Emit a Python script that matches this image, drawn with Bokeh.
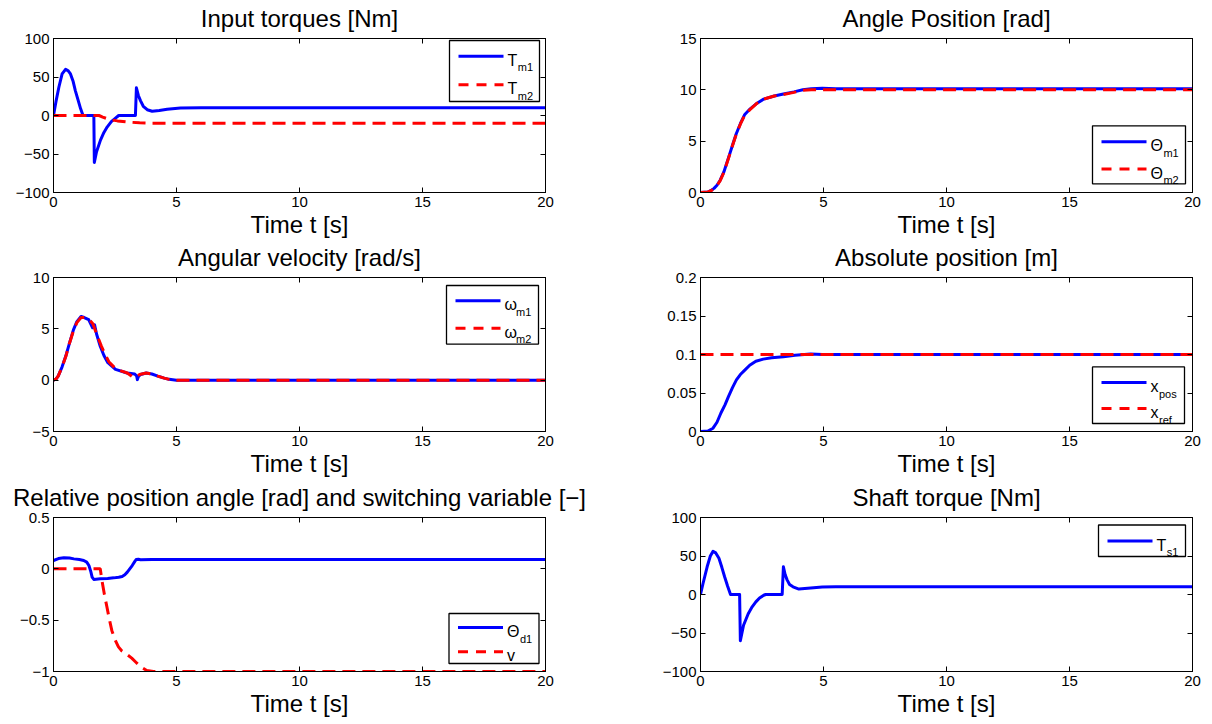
from bokeh.plotting import figure
from bokeh.models import Range1d, LinearAxis, FixedTicker, BoxAnnotation, Label
from bokeh.layouts import column, row
from bokeh.embed import file_html
from bokeh.resources import INLINE

FONT = "Liberation Sans"
BLUE = "#0000ff"
RED = "#ff0000"

# ------------------------------------------------------------------ data
time_ticks = [0, 5, 10, 15, 20]
time_tick_labels = ["0", "5", "10", "15", "20"]

# 1) Input torques [Nm]
tm1_t = [0, 0.1, 0.22, 0.35, 0.49, 0.6, 0.69, 0.8, 0.89, 1.0, 1.1, 1.2, 1.64, 1.66, 1.75, 1.91,
         2.05, 2.18, 2.35, 2.52, 2.65, 3.33, 3.37, 3.45, 3.54, 3.65, 3.81, 4.01, 4.3, 4.62, 5.16, 6.0, 20]
tm1_v = [0, 18, 37, 54, 60, 58, 54, 44, 32, 20, 9, 0, 0, -61, -47, -32,
         -22, -15, -8, -3.5, 0, 0, 36, 26, 19, 12, 7.5, 5.6, 6.5, 8, 9.6, 10, 10]
tm2_t = [0, 1.85, 2.0, 2.3, 2.6, 3.0, 3.5, 4.0, 5.0, 20]
tm2_v = [0, 0, -2, -5.5, -7, -8.5, -9.5, -10, -10, -10]
torque_ticks = [-100, -50, 0, 50, 100]
torque_tick_labels = ["\u2212100", "\u221250", "0", "50", "100"]

# 2) Angle position [rad]
thm_t = [0, 0.3, 0.43, 0.55, 0.67, 0.8, 0.95, 1.14, 1.3, 1.45, 1.62, 1.8, 2.02, 2.3, 2.57,
         3.0, 3.37, 3.8, 4.16, 4.5, 4.95, 5.5, 20]
thm1_v = [0, 0.05, 0.2, 0.4, 0.7, 1.2, 2.0, 3.4, 4.6, 5.7, 6.7, 7.6, 8.15, 8.7, 9.1,
          9.4, 9.6, 9.8, 10.0, 10.1, 10.15, 10.1, 10.1]
thm2_v = [0, 0.05, 0.18, 0.38, 0.68, 1.15, 1.95, 3.35, 4.55, 5.65, 6.65, 7.55, 8.1, 8.7, 9.1,
          9.4, 9.55, 9.75, 9.95, 10.0, 10.0, 10.0, 10.0]
angle_ticks = [0, 5, 10, 15]
angle_tick_labels = ["0", "5", "10", "15"]

# 3) Angular velocity [rad/s]
wm1_t = [0, 0.1, 0.19, 0.35, 0.5, 0.65, 0.81, 0.95, 1.12, 1.25, 1.43, 1.59, 1.67, 1.75, 1.9,
         2.05, 2.21, 2.52, 2.99, 3.3, 3.38, 3.41, 3.45, 3.54, 3.77, 4.0, 4.24, 4.5, 4.7, 5.0, 20]
wm1_v = [0, 0.1, 0.4, 1.3, 2.35, 3.6, 4.9, 5.7, 6.2, 6.1, 5.9, 5.1, 5.4, 4.5, 3.3,
         2.4, 1.7, 1.05, 0.7, 0.6, 0.4, 0.05, 0.35, 0.55, 0.7, 0.6, 0.4, 0.2, 0.08, 0, 0]
wm2_t = [0, 0.1, 0.19, 0.35, 0.5, 0.65, 0.81, 0.95, 1.12, 1.3, 1.45, 1.6, 1.75, 1.95, 2.1,
         2.25, 2.55, 3.0, 3.2, 3.3, 3.5, 3.77, 4.0, 4.24, 4.5, 4.7, 5.0, 20]
wm2_v = [0, 0.1, 0.4, 1.3, 2.3, 3.6, 4.8, 5.6, 6.1, 6.1, 5.9, 5.5, 4.5, 3.3, 2.5,
         1.8, 1.05, 0.7, 0.35, 0.25, 0.55, 0.7, 0.6, 0.4, 0.2, 0.08, 0, 0]
vel_ticks = [-5, 0, 5, 10]
vel_tick_labels = ["\u22125", "0", "5", "10"]

# 4) Absolute position [m]
xpos_t = [0, 0.3, 0.51, 0.67, 0.83, 1.0, 1.14, 1.3, 1.46, 1.62, 1.78, 2.0, 2.25, 2.55, 2.89,
          3.37, 3.84, 4.48, 4.95, 20]
xpos_v = [0, 0.0005, 0.0043, 0.012, 0.024, 0.035, 0.0457, 0.057, 0.067, 0.074, 0.079, 0.086,
          0.0913, 0.094, 0.0957, 0.097, 0.099, 0.1005, 0.1, 0.1]
xref_t = [0, 20]
xref_v = [0.1, 0.1]
pos_ticks = [0, 0.05, 0.1, 0.15, 0.2]
pos_tick_labels = ["0", "0.05", "0.1", "0.15", "0.2"]

# 5) Relative position angle [rad] and switching variable [-]
thd_t = [0, 0.2, 0.42, 0.65, 0.83, 1.05, 1.23, 1.35, 1.44, 1.52, 1.57, 1.64, 1.9, 2.2, 2.45,
         2.65, 2.79, 2.9, 3.0, 3.1, 3.2, 3.3, 3.36, 3.45, 3.54, 4.0, 20]
thd_v = [0.081, 0.1, 0.107, 0.105, 0.097, 0.09, 0.081, 0.065, 0.032, -0.03, -0.08, -0.104,
         -0.097, -0.093, -0.088, -0.082, -0.075, -0.058, -0.032, 0.0, 0.032, 0.07, 0.091, 0.093,
         0.088, 0.09, 0.09]
sw_t = [0, 1.9, 1.97, 2.07, 2.17, 2.27, 2.37, 2.5, 2.64, 2.78, 2.91, 3.18, 3.35, 3.52, 3.79, 4.06, 20]
sw_v = [0, 0, -0.114, -0.25, -0.37, -0.49, -0.60, -0.69, -0.76, -0.80, -0.82, -0.87, -0.91,
        -0.95, -0.99, -1.0, -1.0]
rel_ticks = [-1, -0.5, 0, 0.5]
rel_tick_labels = ["\u22121", "\u22120.5", "0", "0.5"]

# 6) Shaft torque [Nm]
ts1_t = [0, 0.1, 0.27, 0.4, 0.51, 0.62, 0.75, 0.87, 0.98, 1.1, 1.22, 1.59, 1.62, 1.75, 1.94,
         2.1, 2.25, 2.4, 2.57, 2.65, 3.32, 3.37, 3.44, 3.52, 3.62, 3.76, 4.0, 4.48, 4.95, 5.5, 20]
ts1_v = [0, 14, 36, 50, 56, 54, 47, 35, 23, 11, 0, 0, -60, -40, -25,
         -16, -9.6, -4.5, -1, 0, 0, 36, 26, 19, 13, 10, 7, 8.5, 9.8, 10, 10]

# ------------------------------------------------------------------ layout
FW, FH = 492, 154
COL_BORDERS = [(53, 100), (55, 18)]           # left, right
ROW_BORDERS = [(48, 60), (48, 60), (48, 53)]  # top, bottom (generous, rows overlap)
ROW_MARGINS = [(-10, 0, 0, 0), (-23, 0, 0, 0), (-22, 0, 0, 0)]
SYM_W = {"T": 9.8, "\u0398": 12.4, "\u03c9": 11.0, "x": 8.0, "v": 8.0}
PLOT_DASH = "13 7"
LEG_DASH = "10 8"


def style_axis(ax, ticks, labels, visible_labels=True):
    ax.ticker = FixedTicker(ticks=ticks)
    ax.major_label_overrides = {t: l for t, l in zip(ticks, labels)}
    ax.major_tick_in = 5
    ax.major_tick_out = 0
    ax.minor_tick_line_color = None
    ax.major_tick_line_color = "black"
    ax.axis_line_color = "black"
    ax.major_label_text_font = FONT
    ax.major_label_text_color = "black"
    if visible_labels:
        ax.major_label_text_font_size = "15px"
        ax.major_label_standoff = 4
    else:
        ax.major_label_text_font_size = "1px"
        ax.major_label_text_alpha = 0
        ax.major_label_standoff = 0


def make_panel(col, rowi, title, ylo, yhi, yticks, ylabels):
    bl, br = COL_BORDERS[col]
    bt, bb = ROW_BORDERS[rowi]
    p = figure(frame_width=FW, frame_height=FH,
               x_range=Range1d(0, 20), y_range=Range1d(ylo, yhi),
               output_backend="svg", toolbar_location=None,
               min_border_left=bl, min_border_right=br,
               min_border_top=bt, min_border_bottom=bb,
               background_fill_color="white", border_fill_color="white",
               border_fill_alpha=0,
               outline_line_color="black", outline_line_width=1)
    p.title.text = title
    p.title.text_font = FONT
    p.title.text_font_size = "24px"
    p.title.text_font_style = "normal"
    p.title.text_color = "black"
    p.title.align = "center"
    p.title.standoff = 14
    p.xgrid.visible = False
    p.ygrid.visible = False
    style_axis(p.xaxis[0], time_ticks, time_tick_labels)
    style_axis(p.yaxis[0], yticks, ylabels)
    xa = p.xaxis[0]
    xa.axis_label = "Time t [s]"
    xa.axis_label_text_font = FONT
    xa.axis_label_text_font_size = "24px"
    xa.axis_label_text_font_style = "normal"
    xa.axis_label_text_color = "black"
    xa.axis_label_standoff = 1
    top = LinearAxis()
    style_axis(top, time_ticks, time_tick_labels, False)
    p.add_layout(top, "above")
    right = LinearAxis()
    style_axis(right, yticks, ylabels, False)
    p.add_layout(right, "right")

    def dx(px):
        return 0 + px / FW * 20.0

    def dy(py):
        return yhi - py / FH * (yhi - ylo)

    p._dx, p._dy = dx, dy
    return p


def add_legend(p, right_off, anchor, v_off, w, h, rows, entries):
    dx, dy = p._dx, p._dy
    bl = FW - right_off - w
    br = FW - right_off
    bt = v_off if anchor == "top" else FH - v_off - h
    bb = bt + h
    p.add_layout(BoxAnnotation(left=dx(bl), right=dx(br), top=dy(bt), bottom=dy(bb),
                               fill_color="white", fill_alpha=1, line_color="black",
                               line_alpha=1, line_width=1.3, level="underlay"))
    for cy_off, (color, dash, sym, sub) in zip(rows, entries):
        cy = bt + cy_off
        p.line([dx(bl + 9), dx(bl + 54)], [dy(cy), dy(cy)], line_color=color, line_width=3,
               line_dash=dash)
        tx = bl + 58
        p.add_layout(Label(x=dx(tx), y=dy(cy + 4), text=sym, text_baseline="alphabetic",
                           text_font=FONT, text_font_size="16px", text_color="black"))
        if sub:
            p.add_layout(Label(x=dx(tx + SYM_W[sym] + 0.5), y=dy(cy + 11), text=sub,
                               text_baseline="alphabetic", text_font=FONT,
                               text_font_size="11px", text_color="black"))


def solid(p, t, v):
    p.line(t, v, line_color=BLUE, line_width=3, line_join="round")


def dashed(p, t, v):
    p.line(t, v, line_color=RED, line_width=3, line_dash=PLOT_DASH)


# 1
p1 = make_panel(0, 0, "Input torques [Nm]", -100, 100, torque_ticks, torque_tick_labels)
solid(p1, tm1_t, tm1_v)
dashed(p1, tm2_t, tm2_v)
add_legend(p1, 6, "top", 2, 90, 61, [15.7, 44.3],
           [(BLUE, "solid", "T", "m1"), (RED, LEG_DASH, "T", "m2")])

# 2
p2 = make_panel(1, 0, "Angle Position [rad]", 0, 15, angle_ticks, angle_tick_labels)
solid(p2, thm_t, thm1_v)
dashed(p2, thm_t, thm2_v)
add_legend(p2, 7, "bottom", 8.7, 93, 58, [16, 43.3],
           [(BLUE, "solid", "\u0398", "m1"), (RED, LEG_DASH, "\u0398", "m2")])

# 3
p3 = make_panel(0, 1, "Angular velocity [rad/s]", -5, 10, vel_ticks, vel_tick_labels)
solid(p3, wm1_t, wm1_v)
dashed(p3, wm2_t, wm2_v)
add_legend(p3, 7, "top", 8, 92, 58.6, [15.3, 42.7],
           [(BLUE, "solid", "\u03c9", "m1"), (RED, LEG_DASH, "\u03c9", "m2")])

# 4
p4 = make_panel(1, 1, "Absolute position [m]", 0, 0.2, pos_ticks, pos_tick_labels)
solid(p4, xpos_t, xpos_v)
dashed(p4, xref_t, xref_v)
add_legend(p4, 8, "bottom", 8, 92, 56.6, [15.7, 41.7],
           [(BLUE, "solid", "x", "pos"), (RED, LEG_DASH, "x", "ref")])

# 5
p5 = make_panel(0, 2, "Relative position angle [rad] and switching variable [\u2212]",
                -1, 0.5, rel_ticks, rel_tick_labels)
solid(p5, thd_t, thd_v)
dashed(p5, sw_t, sw_v)
add_legend(p5, 6.5, "bottom", 8, 90, 50, [14, 38.3],
           [(BLUE, "solid", "\u0398", "d1"), (RED, LEG_DASH, "v", "")])

# 6
p6 = make_panel(1, 2, "Shaft torque [Nm]", -100, 100, torque_ticks, torque_tick_labels)
solid(p6, ts1_t, ts1_v)
add_legend(p6, 7, "top", 7.5, 87, 31.5, [16],
           [(BLUE, "solid", "T", "s1")])

layout = column(row(p1, p2, margin=ROW_MARGINS[0]),
                row(p3, p4, margin=ROW_MARGINS[1]),
                row(p5, p6, margin=ROW_MARGINS[2]))
open("out.html", "w").write(file_html(layout, INLINE))
